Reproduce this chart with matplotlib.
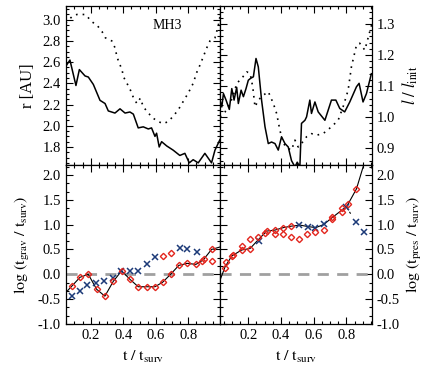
import matplotlib
matplotlib.use('Agg')
from matplotlib import pyplot
import matplotlib.ticker as ticker

pyplot.rcParams['font.family'] = ['Liberation Serif', 'DejaVu Serif']
pyplot.rcParams['mathtext.fontset'] = 'stix'

# top left: r [AU], solid and dotted
r_sol_t = [0.046, 0.072, 0.109, 0.130, 0.165, 0.185, 0.216, 0.257, 0.288, 0.308, 0.349,
           0.380, 0.411, 0.441, 0.462, 0.492, 0.523, 0.554, 0.574, 0.595, 0.605, 0.621,
           0.636, 0.667, 0.707, 0.748, 0.779, 0.806, 0.830, 0.861, 0.902, 0.943, 0.964, 0.995]
r_sol = [2.56, 2.62, 2.38, 2.53, 2.47, 2.46, 2.39, 2.24, 2.21, 2.14, 2.12,
         2.16, 2.12, 2.13, 2.11, 1.98, 1.99, 1.97, 1.98, 1.90, 1.93, 1.80,
         1.85, 1.81, 1.77, 1.72, 1.74, 1.65, 1.68, 1.65, 1.74, 1.65, 1.77, 1.87]
r_dot_t = [0.046, 0.085, 0.115, 0.167, 0.208, 0.238, 0.269, 0.290, 0.330, 0.351, 0.361,
           0.376, 0.392, 0.402, 0.423, 0.443, 0.464, 0.484, 0.505, 0.523, 0.554, 0.585,
           0.615, 0.646, 0.677, 0.707, 0.738, 0.769, 0.800, 0.830, 0.851, 0.871, 0.892,
           0.912, 0.933, 0.964, 0.984, 0.998]
r_dot = [2.97, 3.03, 3.05, 3.05, 2.98, 2.95, 2.89, 2.83, 2.80, 2.73, 2.65,
         2.59, 2.53, 2.46, 2.40, 2.34, 2.26, 2.21, 2.26, 2.18, 2.12, 2.07,
         2.04, 2.02, 2.04, 2.09, 2.15, 2.23, 2.31, 2.40, 2.50, 2.57, 2.65,
         2.73, 2.80, 2.83, 2.94, 3.06]

# top right: l / l_init
l_sol_t = [0.027, 0.038, 0.048, 0.064, 0.084, 0.099, 0.113, 0.129, 0.139, 0.156, 0.170,
           0.186, 0.200, 0.214, 0.231, 0.247, 0.261, 0.281, 0.302, 0.322, 0.342, 0.363,
           0.383, 0.403, 0.424, 0.444, 0.464, 0.485, 0.499, 0.515, 0.525, 0.546, 0.556,
           0.576, 0.586, 0.607, 0.627, 0.668, 0.708, 0.735, 0.759, 0.789, 0.820, 0.861,
           0.877, 0.901, 0.922, 0.952]
l_sol = [1.055, 1.033, 1.076, 1.055, 1.025, 1.092, 1.055, 1.096, 1.044, 1.087, 1.066,
         1.092, 1.119, 1.125, 1.130, 1.189, 1.162, 1.055, 0.969, 0.915, 0.920, 0.915,
         0.894, 0.937, 0.915, 0.904, 0.860, 0.840, 0.855, 0.840, 0.980, 0.990, 1.001,
         1.055, 1.012, 1.049, 1.017, 0.990, 1.055, 1.055, 1.028, 1.017, 1.049, 1.098,
         1.109, 1.049, 1.076, 1.140]
l_dot_t = [0.027, 0.058, 0.088, 0.109, 0.129, 0.160, 0.190, 0.211, 0.227, 0.241, 0.261,
           0.292, 0.322, 0.353, 0.373, 0.393, 0.414, 0.444, 0.464, 0.485, 0.505, 0.525,
           0.556, 0.586, 0.617, 0.657, 0.708, 0.749, 0.779, 0.810, 0.830, 0.861, 0.881,
           0.912, 0.942, 0.955]
l_dot = [1.001, 1.017, 1.044, 1.071, 1.109, 1.125, 1.146, 1.141, 1.098, 1.033, 1.055,
         1.071, 1.082, 1.044, 1.012, 0.958, 0.915, 0.899, 0.894, 0.926, 0.904, 0.915,
         0.937, 0.947, 0.942, 0.947, 0.969, 0.990, 1.033, 1.087, 1.162, 1.232, 1.238,
         1.216, 1.275, 1.300]

# bottom left: log(t_grav / t_surv)
grav_line_t = [0.046, 0.083, 0.134, 0.185, 0.236, 0.287, 0.339, 0.390, 0.441, 0.492,
               0.544, 0.595, 0.642, 0.691, 0.742, 0.793, 0.847, 0.892, 0.943, 0.995]
grav_line = [-0.37, -0.24, -0.06, 0.0, -0.30, -0.44, -0.14, 0.07, -0.10, -0.25,
             -0.25, -0.25, -0.16, 0.0, 0.18, 0.22, 0.20, 0.29, 0.50, 0.55]
grav_dia_t = [0.083, 0.134, 0.185, 0.236, 0.287, 0.339, 0.390, 0.441, 0.492, 0.544,
              0.595, 0.642, 0.691, 0.742, 0.793, 0.847, 0.885, 0.895, 0.943, 0.943,
              0.644, 0.693]
grav_dia = [-0.24, -0.06, 0.0, -0.30, -0.44, -0.14, 0.07, -0.10, -0.25, -0.25,
            -0.25, -0.16, 0.0, 0.18, 0.22, 0.20, 0.27, 0.30, 0.50, 0.26,
            0.37, 0.42]
grav_x_t = [0.087, 0.134, 0.179, 0.230, 0.281, 0.339, 0.385, 0.441, 0.492, 0.544,
            0.595, 0.749, 0.790, 0.851]
grav_x = [-0.44, -0.34, -0.22, -0.18, -0.13, -0.07, 0.07, 0.07, 0.07, 0.20,
          0.34, 0.52, 0.50, 0.45]

# bottom right: log(t_pres / t_surv)
pres_line_t = [0.027, 0.058, 0.099, 0.160, 0.211, 0.262, 0.312, 0.363, 0.414, 0.465,
               0.516, 0.566, 0.612, 0.660, 0.712, 0.763, 0.804, 0.861, 0.905]
pres_line = [-0.12, 0.15, 0.37, 0.49, 0.52, 0.70, 0.87, 0.89, 0.94, 0.97,
             0.99, 0.96, 0.94, 1.00, 1.14, 1.27, 1.38, 1.72, 2.20]
pres_dia_t = [0.058, 0.064, 0.099, 0.109, 0.160, 0.160, 0.211, 0.211, 0.257, 0.302,
              0.312, 0.363, 0.363, 0.410, 0.410, 0.460, 0.460, 0.510, 0.560, 0.610,
              0.660, 0.710, 0.714, 0.770, 0.770, 0.812, 0.861]
pres_dia = [0.134, 0.25, 0.37, 0.39, 0.49, 0.56, 0.50, 0.72, 0.76, 0.83,
            0.87, 0.89, 0.82, 0.93, 0.82, 0.97, 0.76, 0.72, 0.81, 0.85,
            0.89, 1.12, 1.15, 1.25, 1.34, 1.42, 1.72]
pres_x_t = [0.267, 0.510, 0.566, 0.610, 0.660, 0.800, 0.861, 0.908]
pres_x = [0.68, 0.99, 0.95, 0.93, 1.02, 1.36, 1.05, 0.85]
pres_dash_t = [0.800, 0.825]
pres_dash = [1.36, 1.22]

red = '#e3261e'
blue = '#1c3a78'

fig = pyplot.figure(figsize=(4.36, 3.82), dpi=100)
ax1 = fig.add_axes([65.7 / 436, 1 - 165 / 382, 154.3 / 436, 159 / 382])
ax2 = fig.add_axes([220 / 436, 1 - 165 / 382, 151.7 / 436, 159 / 382])
ax3 = fig.add_axes([65.7 / 436, 1 - 324 / 382, 154.3 / 436, 159 / 382])
ax4 = fig.add_axes([220 / 436, 1 - 324 / 382, 151.7 / 436, 159 / 382])

ax1.plot(r_sol_t, r_sol, color='black', lw=1.1)
ax1.plot(r_dot_t, r_dot, color='black', lw=1.2, linestyle=(0, (1, 3)))
ax1.text(0.668, 2.95, 'MH3', fontsize=10, ha='center', va='center')
ax1.set_xlim(0.046, 0.995)
ax1.set_ylim(1.63, 3.13)
ax1.yaxis.set_major_locator(ticker.MultipleLocator(0.2))
ax1.yaxis.set_minor_locator(ticker.MultipleLocator(0.05))
ax1.set_ylabel('r [AU]', fontsize=12, labelpad=5)

ax2.plot(l_sol_t, l_sol, color='black', lw=1.1)
ax2.plot(l_dot_t, l_dot, color='black', lw=1.2, linestyle=(0, (1, 3)))
ax2.set_xlim(0.027, 0.954)
ax2.set_ylim(0.846, 1.358)
ax2.yaxis.set_major_locator(ticker.MultipleLocator(0.1))
ax2.yaxis.set_minor_locator(ticker.MultipleLocator(0.02))
ax2.yaxis.set_label_position('right')
ax2.set_ylabel(r'$l\ /\ l_{\rm init}$', fontsize=12)

for ax in (ax3, ax4):
    ax.axhline(0, color='#a0a0a0', lw=2, linestyle=(0, (4, 3)))
    ax.set_ylim(-1.0, 2.2)
    ax.yaxis.set_major_locator(ticker.MultipleLocator(0.5))
    ax.yaxis.set_minor_locator(ticker.MultipleLocator(0.5 / 3))
    ax.set_xlabel(r'$\rm t\ /\ t_{surv}$', fontsize=11.5, labelpad=5)

ax3.plot(grav_line_t, grav_line, color='black', lw=0.8)
ax3.plot(grav_x_t, grav_x, linestyle='none', marker='x', ms=4.3, mew=1.1, color=blue)
ax3.plot(grav_dia_t, grav_dia, linestyle='none', marker='D', ms=3.2, mew=1.0,
         mfc='none', mec=red)
ax3.set_xlim(0.046, 0.995)
ax3.set_ylabel(r'$\rm log\ (t_{grav}\ /\ t_{surv})$', fontsize=11.5)

ax4.plot(pres_line_t, pres_line, color='black', lw=0.8)
ax4.plot(pres_dash_t, pres_dash, color='black', lw=0.8, linestyle='--')
ax4.plot(pres_x_t, pres_x, linestyle='none', marker='x', ms=4.3, mew=1.1, color=blue)
ax4.plot(pres_dia_t, pres_dia, linestyle='none', marker='D', ms=3.2, mew=1.0,
         mfc='none', mec=red)
ax4.set_xlim(0.027, 0.954)
ax4.yaxis.set_label_position('right')
ax4.set_ylabel(r'$\rm log\ (t_{pres}\ /\ t_{surv})$', fontsize=11.5)

for ax in (ax1, ax2, ax3, ax4):
    ax.xaxis.set_major_locator(ticker.MultipleLocator(0.2))
    ax.xaxis.set_minor_locator(ticker.MultipleLocator(0.05))
    ax.tick_params(which='both', direction='in', top=True, bottom=True, left=True,
                   right=True, labelsize=10.5, width=0.8)
    ax.tick_params(which='major', length=5)
    ax.tick_params(which='minor', length=2.5)
    for s in ax.spines.values():
        s.set_linewidth(0.9)

ax1.tick_params(labelbottom=False)
ax2.tick_params(labelbottom=False, labelleft=False, labelright=True)
ax4.tick_params(labelleft=False, labelright=True)

fmt = ticker.FormatStrFormatter('%.1f')
for ax in (ax1, ax2, ax3, ax4):
    ax.yaxis.set_major_formatter(fmt)
    ax.xaxis.set_major_formatter(fmt)

fig.savefig('out.png', dpi=100)
